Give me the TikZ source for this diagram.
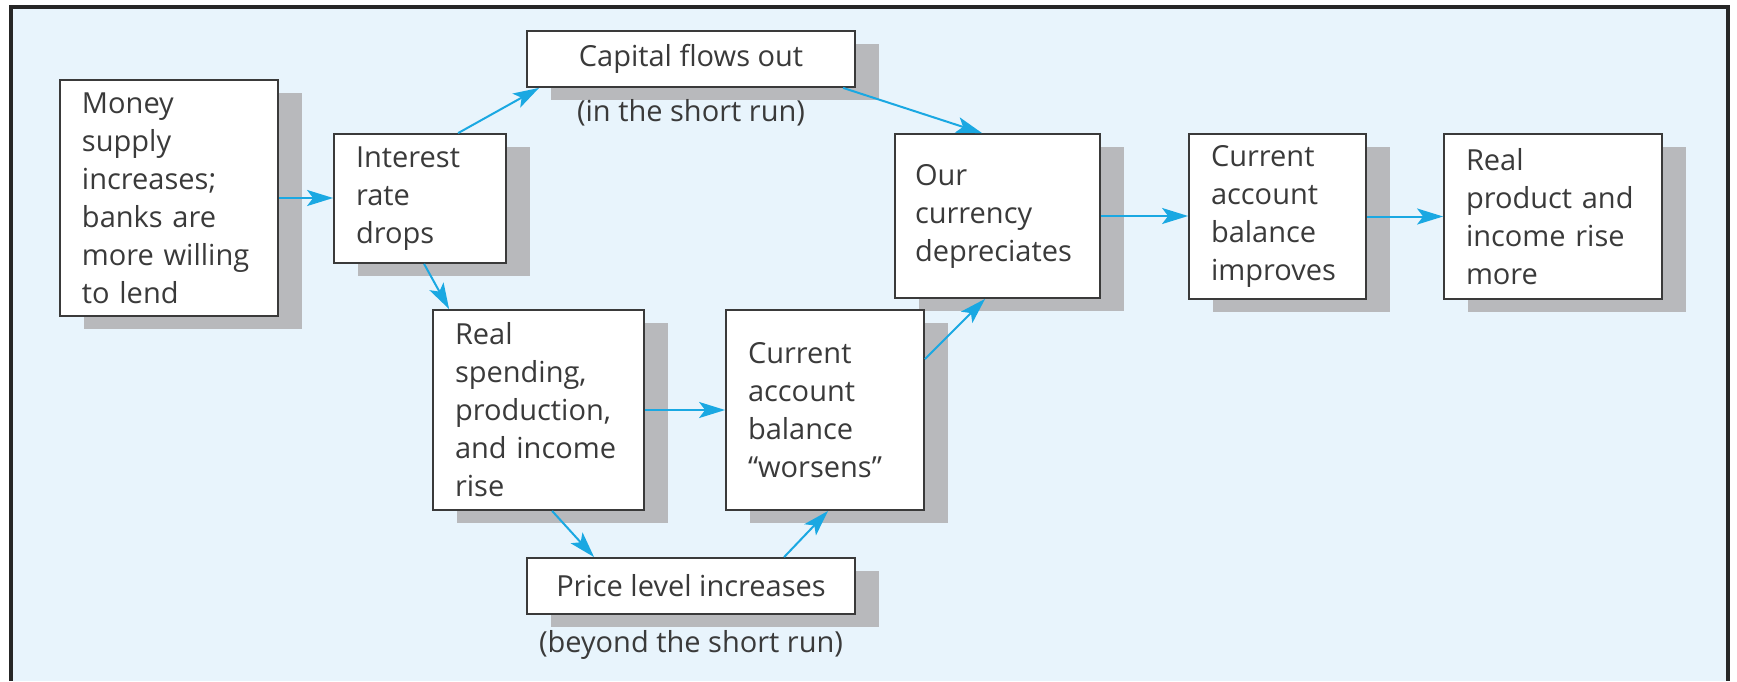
\documentclass[tikz,border=0pt]{standalone}
\usepackage{fontspec}
\setmainfont{Open Sans}
\usetikzlibrary{calc,shadows,arrows.meta}
\definecolor{bgblue}{HTML}{E8F4FC}
\definecolor{shadowgray}{HTML}{B8B9BC}
\definecolor{arrowblue}{HTML}{1AA8E2}
\definecolor{txtgray}{HTML}{3A3A3A}
\definecolor{boxborder}{HTML}{3A3A3A}
\definecolor{framecol}{HTML}{262626}
\begin{document}
\begin{tikzpicture}[x=0.5pt,y=-0.5pt,
  font=\fontsize{14.5}{19}\selectfont, text=txtgray,
  box/.style={draw=boxborder, line width=0.9pt, fill=white, rectangle,
    inner xsep=11pt, inner ysep=0pt, align=left,
    general shadow={fill=shadowgray, shadow xshift=12pt, shadow yshift=-6.5pt}},
  wide/.style={box, align=center, minimum width=164pt, minimum height=28pt},
  conn/.style={draw=arrowblue, line width=1pt,
    -{Stealth[length=13pt,width=8pt,inset=3pt]}},
  note/.style={inner sep=0pt}]
\useasboundingbox (0,0) rectangle (1737,681);
\fill[white] (0,0) rectangle (1737,681);
\fill[bgblue] (11,7) rectangle (1728,681);
\draw[framecol, line width=1.75pt] (11,681) -- (11,7) -- (1728,7) -- (1728,681);

\node[box, minimum width=109pt, minimum height=118pt, text width=87pt] (money) at (169,198)
  {Money\\supply\\increases;\\banks are\\more willing\\to lend};
\node[box, minimum width=86pt, minimum height=64.5pt, text width=64pt] (int) at (420,198.5)
  {Interest\\rate\\drops};
\node[wide] (cap) at (691,59) {Capital flows out};
\node[note] (capnote) at (691,113) {(in the short run)};
\node[box, inner xsep=10pt, minimum width=102.5pt, minimum height=82pt, text width=82.5pt] (our) at (997.5,216)
  {Our\\currency\\depreciates};
\node[box, minimum width=88.5pt, minimum height=82.5pt, text width=66.5pt] (cai) at (1277.5,216.5)
  {Current\\account\\balance\\improves};
\node[box, minimum width=109pt, minimum height=82.5pt, text width=87pt] (rp) at (1553,216.5)
  {Real\\product and\\income rise\\more};
\node[box, minimum width=105.5pt, minimum height=100pt, text width=83.5pt] (rs) at (538.5,410)
  {Real\\spending,\\production,\\and income\\rise};
\node[box, minimum width=99pt, minimum height=100pt, text width=77pt] (caw) at (825,410)
  {Current\\account\\balance\\“worsens”};
\node[wide] (price) at (691,586) {Price level increases};
\node[note] (pricenote) at (691,645) {(beyond the short run)};

\draw[conn] (money.east) -- (money.east -| int.west);
\draw[conn] ($(int.north west)+(125,0)$) -- ($(cap.south west)+(13,0)$);
\draw[conn] ($(cap.south west)+(317,0)$) -- ($(our.north west)+(88,0)$);
\draw[conn] ($(int.south west)+(91,0)$) -- ($(rs.north west)+(17,0)$);
\draw[conn] (rs.east) -- (rs.east -| caw.west);
\draw[conn] ($(rs.south west)+(120,0)$) -- ($(price.north west)+(68,0)$);
\draw[conn] ($(price.north west)+(258,0)$) -- ($(caw.south west)+(103,0)$);
\draw[conn] ($(caw.north east)+(0,50)$) -- ($(our.south west)+(91,0)$);
\draw[conn] (our.east) -- (our.east -| cai.west);
\draw[conn] (cai.east) -- (cai.east -| rp.west);
\end{tikzpicture}
\end{document}
